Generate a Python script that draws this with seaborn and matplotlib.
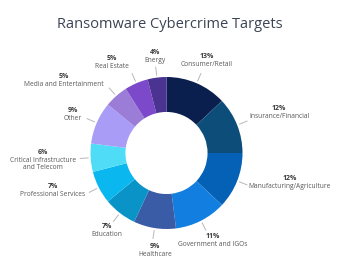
import numpy as np
import matplotlib
matplotlib.use("Agg")
import matplotlib.pyplot as plt
import seaborn as sns

categories = ["Consumer/Retail", "Insurance/Financial", "Manufacturing/Agriculture",
              "Government and IGOs", "Healthcare", "Education", "Professional Services",
              "Critical Infrastructure\nand Telecom", "Other", "Media and Entertainment",
              "Real Estate", "Energy"]
values = [13, 12, 12, 11, 9, 7, 7, 6, 9, 5, 5, 4]
colors = ["#0b1f4e", "#0c4d7a", "#0561b5", "#127ee0", "#3a5ba6", "#0993c6",
          "#0ab7ef", "#4fdcf7", "#a99cf7", "#9b7dd8", "#7b49c9", "#4b3392"]

# layout (pixel positions of label centres, from top-left)
label_pos = [(207, 57), (279, 109), (290, 179), (213, 237), (155, 246), (107, 227),
             (53, 187), (43, 152), (73, 111), (64, 77), (112, 59), (155, 52)]

sns.set_theme(style="white")
plt.rcParams['font.family'] = ['Open Sans', 'DejaVu Sans']

W, H = 339, 267
fig = plt.figure(figsize=(W / 100, H / 100), dpi=100)
ax = fig.add_axes([0, 0, 1, 1])

cx, cy, R = 166.5, H - 153, 76
pal = sns.color_palette(colors)
wedges, _ = ax.pie(values, colors=pal, startangle=90, counterclock=False,
                   center=(cx, cy), radius=R, frame=True,
                   wedgeprops=dict(width=R * 0.46, linewidth=0))
ax.set_xlim(0, W)
ax.set_ylim(0, H)
ax.set_aspect('equal')
ax.axis('off')

total = sum(values)
cum = 0
for v, name, (lx, ly) in zip(values, categories, label_pos):
    mid = (cum + v / 2) / total * 2 * np.pi
    cum += v
    s, c = np.sin(mid), np.cos(mid)
    ax.plot([cx + (R + 2) * s, cx + (R + 11) * s], [cy + (R + 2) * c, cy + (R + 11) * c],
            color="#b8b8b8", lw=0.7, solid_capstyle='butt')
    ax.text(lx, H - ly, f"{v}%", ha='center', va='center', fontsize=5.0,
            fontweight='bold', color="#3a3a3a")
    ax.text(lx, H - ly - 4.5, name, ha='center', va='top', fontsize=4.8,
            color="#585858", linespacing=1.15)

ax.text(169.5, H - 24, "Ransomware Cybercrime Targets", ha='center', va='center',
        fontsize=10.5, color="#3b4454")

fig.savefig("out.png", dpi=100, facecolor="white")
